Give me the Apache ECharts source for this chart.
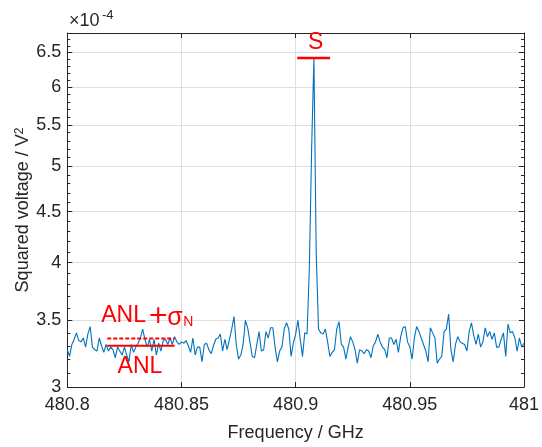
<!DOCTYPE html>
<html><head><meta charset="utf-8">
<script src="https://cdn.jsdelivr.net/npm/echarts@6/dist/echarts.min.js"></script>
<style>html,body{margin:0;padding:0;background:#fff}#c{width:542px;height:447px}</style>
</head><body><div id="c"></div>
<script>
// Frequency grid (GHz)
const freqStart = 480.8;
const freqStep = 0.001;
// Squared voltage, in units of 1e-4 V^2
const voltage = [
3.27,3.22,3.31,3.35,3.40,3.34,3.33,3.36,3.29,3.39,
3.45,3.29,3.27,3.26,3.36,3.30,3.25,3.31,3.26,3.29,
3.27,3.21,3.29,3.26,3.23,3.29,3.23,3.18,3.31,3.25,
3.29,3.32,3.36,3.43,3.35,3.29,3.35,3.26,3.35,3.23,
3.32,3.26,3.34,3.35,3.31,3.36,3.31,3.37,3.33,3.31,
3.33,3.32,3.34,3.30,3.25,3.36,3.23,3.29,3.29,3.18,
3.31,3.32,3.27,3.24,3.30,3.35,3.36,3.39,3.26,3.35,
3.27,3.35,3.43,3.53,3.31,3.20,3.23,3.31,3.50,3.44,
3.33,3.22,3.21,3.31,3.41,3.26,3.27,3.41,3.36,3.44,
3.44,3.29,3.18,3.26,3.29,3.43,3.48,3.43,3.22,3.32,
3.39,3.50,3.35,3.22,3.40,3.39,3.95,5.20,6.42,4.10,
3.43,3.40,3.39,3.43,3.33,3.22,3.25,3.27,3.43,3.49,
3.31,3.29,3.20,3.29,3.37,3.33,3.27,3.17,3.27,3.26,
3.24,3.27,3.26,3.21,3.30,3.33,3.39,3.33,3.29,3.27,
3.21,3.36,3.36,3.31,3.35,3.25,3.37,3.44,3.45,3.33,
3.29,3.20,3.36,3.45,3.41,3.36,3.31,3.26,3.18,3.44,
3.40,3.36,3.17,3.20,3.22,3.41,3.43,3.55,3.27,3.18,
3.31,3.37,3.33,3.32,3.31,3.26,3.41,3.48,3.38,3.31,
3.39,3.29,3.33,3.44,3.37,3.41,3.35,3.40,3.29,3.29,
3.35,3.40,3.22,3.47,3.40,3.41,3.36,3.26,3.36,3.29,
3.32
];
const xTicks = [480.8, 480.85, 480.9, 480.95, 481];
const yTicks = [3, 3.5, 4, 4.5, 5, 5.5, 6, 6.5];
const yMinorTicks = [3.1,3.2,3.3,3.4,3.6,3.7,3.8,3.9,4.1,4.2,4.3,4.4,4.6,4.7,4.8,4.9,5.1,5.2,5.3,5.4,5.6,5.7,5.8,5.9,6.1,6.2,6.3,6.4,6.6,6.7,6.8];
const yMin = 3, yMax = 6.8;
// Annotation levels
const anlRange = [480.8175, 480.847];
const anlLevel = 3.30;
const anlSigmaLevel = 3.355;
const sRange = [480.9007, 480.9151];
const sLevel = 6.42;

const FONT = 'Liberation Sans, Arial, Helvetica, sans-serif';
const AX = '#262626';
const RED = '#ff0000';

const lineData = voltage.map((v, i) => [+(freqStart + i * freqStep).toFixed(3), v]);

function yAxisDef(pos, major, showLabel, showLine) {
  return {
    type: 'log', logBase: 10, min: yMin, max: yMax, position: pos,
    axisLine: { show: showLine, onZero: false, lineStyle: { color: AX, width: 1 } },
    axisTick: { show: true, inside: true, length: major ? 5 : 3, customValues: major ? yTicks : yMinorTicks, lineStyle: { color: AX, width: 1 } },
    minorTick: { show: false },
    axisLabel: { show: showLabel, customValues: yTicks, color: AX, fontFamily: FONT, fontSize: 18, margin: 6,
      formatter: v => String(+(+v).toFixed(2)) },
    splitLine: { show: major && showLabel, lineStyle: { color: '#dfdfdf', width: 1 } },
    name: showLabel ? 'Squared voltage / V{sup|2}' : '',
    nameLocation: 'middle', nameGap: 34, nameMoveOverlap: false,
    nameTextStyle: { color: AX, fontFamily: FONT, fontSize: 18,
      rich: { sup: { fontSize: 12, color: AX, fontFamily: FONT, verticalAlign: 'top', lineHeight: 20 } } }
  };
}

const option = {
  backgroundColor: '#fff',
  animation: false,
  grid: { left: 67.3, right: 14.5, top: 33, bottom: 59.5, containLabel: false },
  xAxis: [
    { type: 'value', min: 480.8, max: 481, interval: 0.05, position: 'bottom',
      axisLine: { show: true, onZero: false, lineStyle: { color: AX, width: 1 } },
      axisTick: { show: true, inside: true, length: 5, lineStyle: { color: AX } },
      axisLabel: { color: AX, fontFamily: FONT, fontSize: 18, margin: 9, formatter: v => String(+(+v).toFixed(2)) },
      splitLine: { show: true, lineStyle: { color: '#dfdfdf', width: 1 } },
      name: 'Frequency / GHz', nameLocation: 'middle', nameGap: 37, nameMoveOverlap: false,
      nameTextStyle: { color: AX, fontFamily: FONT, fontSize: 18 } },
    { type: 'value', min: 480.8, max: 481, interval: 0.05, position: 'top',
      axisLine: { show: true, onZero: false, lineStyle: { color: AX, width: 1 } },
      axisTick: { show: true, inside: true, length: 5, lineStyle: { color: AX } },
      axisLabel: { show: false }, splitLine: { show: false } }
  ],
  yAxis: [
    yAxisDef('left', true, true, true),
    yAxisDef('left', false, false, false),
    yAxisDef('right', true, false, true),
    yAxisDef('right', false, false, false)
  ],
  series: [
    { type: 'line', data: lineData, showSymbol: false, symbol: 'none',
      lineStyle: { color: '#0072BD', width: 1.1 }, z: 3 },
    { type: 'line', data: [[anlRange[0], anlLevel], [anlRange[1], anlLevel]], symbol: 'none',
      lineStyle: { color: RED, width: 2 }, z: 4 },
    { type: 'line', data: [[anlRange[0], anlSigmaLevel], [anlRange[1], anlSigmaLevel]], symbol: 'none',
      lineStyle: { color: RED, width: 2, type: [4, 2] }, z: 4 },
    { type: 'line', data: [[sRange[0], sLevel], [sRange[1], sLevel]], symbol: 'none',
      lineStyle: { color: RED, width: 2.5 }, z: 4 }
  ]
};

const chart = echarts.init(document.getElementById('c'), null, { renderer: 'canvas' });
chart.setOption(option);

const p = (x, y) => chart.convertToPixel({ xAxisIndex: 0, yAxisIndex: 0 }, [x, y]);
const sC = p((sRange[0] + sRange[1]) / 2, sLevel);
const aL = p(anlRange[0], anlSigmaLevel);
const aS = p((anlRange[0] + anlRange[1]) / 2, anlLevel);
const redText = (txt, x, y, font, align, valign) => ({
  type: 'text', x: x, y: y, z: 10,
  style: { text: txt, fill: RED, font: font, textAlign: align, textVerticalAlign: valign }
});
chart.setOption({
  graphic: [
    redText('S', sC[0] + 2, sC[1] - 15, '23px ' + FONT, 'center', 'middle'),
    redText('ANL', aL[0] - 6, aL[1] - 23, '23px ' + FONT, 'left', 'middle'),
    redText('+', aL[0] + 51, aL[1] - 22, '25px DejaVu Sans', 'center', 'middle'),
    redText('\u03C3', aL[0] + 60, aL[1] - 21, '25px ' + FONT, 'left', 'middle'),
    redText('N', aL[0] + 76, aL[1] - 16, '14px ' + FONT, 'left', 'middle'),
    redText('ANL', aS[0] - 1, aS[1] + 21, '23px ' + FONT, 'center', 'middle'),
    { type: 'text', x: 69, y: 21, style: { text: '\u00D710', fill: AX, font: '18px ' + FONT, textAlign: 'left', textVerticalAlign: 'middle' } },
    { type: 'text', x: 102, y: 15, style: { text: '-4', fill: AX, font: '13px ' + FONT, textAlign: 'left', textVerticalAlign: 'middle' } }
  ]
});
</script>
</body></html>
